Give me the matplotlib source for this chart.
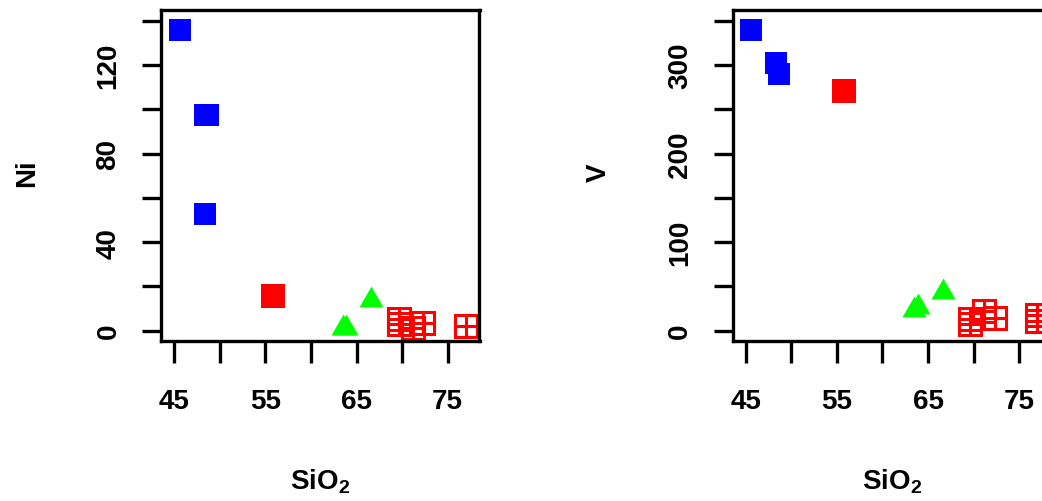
import matplotlib.pyplot as plt

plt.rcParams['font.family'] = ['Liberation Sans', 'DejaVu Sans']
plt.rcParams['mathtext.default'] = 'regular'

# groups of samples: SiO2 vs Ni and V
blue_sio2 = [45.6, 48.35, 48.68, 48.35]
blue_ni = [135.8, 97.4, 97.4, 52.5]
blue_v = [339.5, 302, 290, 302]

red_sio2 = [55.78]
red_ni = [15.7]
red_v = [270.6]

green_sio2 = [63.5, 63.85, 66.6]
green_ni = [1.0, 1.0, 14.0]
green_v = [23.0, 26.8, 44.0]

open_sio2 = [69.65, 69.65, 71.2, 72.35, 77.0, 77.0]
open_ni = [5.3, 3.0, 1.2, 3.7, 1.9, 1.9]
open_v = [13.2, 7.5, 21.7, 13.8, 18.3, 11.0]

x_ticks = [45, 50, 55, 60, 65, 70, 75]
x_labels = ['45', '', '55', '', '65', '', '75']
ni_ticks = [0, 20, 40, 60, 80, 100, 120, 140]
ni_labels = ['0', '', '40', '', '80', '', '120', '']
v_ticks = [0, 50, 100, 150, 200, 250, 300, 350]
v_labels = ['0', '', '100', '', '200', '', '300', '']

# R style triangle (pch 17), centred on its centroid
tri = [(0, 1), (-0.866, -0.5), (0.866, -0.5)]


def draw(ax, ys, ylab, ylim, yticks, ylabels):
    ax.plot(blue_sio2, ys[0], 's', color='#0000ff', ms=15.8, mew=0)
    ax.plot(red_sio2, ys[1], 's', color='#ff0000', ms=17.8, mew=0)
    ax.plot(green_sio2, ys[2], marker=tri, ls='none', color='#00ff00', ms=20, mew=0)
    ax.plot(open_sio2, ys[3], 's', mfc='none', mec='#ff0000', ms=15.8, mew=2.2)
    ax.plot(open_sio2, ys[3], '+', color='#ff0000', ms=15.8, mew=2.2)

    ax.set_xlim(43.54, 78.5)
    ax.set_ylim(*ylim)
    ax.set_xticks(x_ticks)
    ax.set_xticklabels(x_labels)
    ax.set_yticks(yticks)
    ax.set_yticklabels(ylabels)
    for s in ax.spines.values():
        s.set_linewidth(2.4)
    ax.tick_params(axis='x', length=16, width=2.4, pad=18, labelsize=20)
    ax.tick_params(axis='y', length=13.5, width=2.4, pad=15, labelsize=20)
    for lab in ax.get_xticklabels() + ax.get_yticklabels():
        lab.set_fontweight('bold')
    for lab in ax.get_yticklabels():
        lab.set_rotation(90)
        lab.set_va('center')

    ax.set_xlabel('SiO$_2$', fontsize=20, va='top', fontweight='bold')
    ax.xaxis.set_label_coords(0.5, -0.38)
    ax.set_ylabel(ylab, fontsize=20, va='center', fontweight='bold')
    ax.yaxis.set_label_coords(-0.42, 0.51)


fig = plt.figure(figsize=(10.42, 5.02), dpi=100)
ax1 = fig.add_axes([161 / 1042, 160 / 502, 318.5 / 1042, 331.5 / 502])
ax2 = fig.add_axes([732.5 / 1042, 160 / 502, 318.5 / 1042, 331.5 / 502])

draw(ax1, [blue_ni, red_ni, green_ni, open_ni], 'Ni', (-4.65, 145.06), ni_ticks, ni_labels)
draw(ax2, [blue_v, red_v, green_v, open_v], 'V', (-11.6, 362.6), v_ticks, v_labels)

fig.savefig('out.png', dpi=100)
